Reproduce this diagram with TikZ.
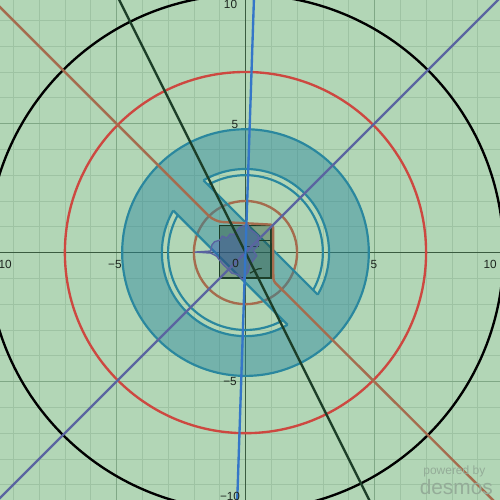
\documentclass[tikz,border=0pt]{standalone}
\usepackage{fontspec}
\setmainfont{Liberation Sans}
\definecolor{bg}{RGB}{178,214,182}
\definecolor{gridminor}{RGB}{158,195,163}
\definecolor{gridmajor}{RGB}{128,168,134}
\definecolor{axiscol}{RGB}{58,92,64}
\definecolor{dred}{RGB}{205,72,64}
\definecolor{dbrown}{RGB}{165,108,78}
\definecolor{dpurple}{RGB}{90,100,160}
\definecolor{dgreen}{RGB}{28,62,40}
\definecolor{dblue}{RGB}{52,118,200}
\definecolor{dteal}{RGB}{42,135,158}
\definecolor{labelcol}{RGB}{30,38,32}
\definecolor{wmark}{RGB}{148,172,152}
\tikzset{
  minorline/.style={gridminor, line width=0.7pt},
  majorline/.style={gridmajor, line width=0.9pt},
  axisline/.style={axiscol, line width=1.3pt},
  curve/.style={line width=2.6pt},
  ticklabel/.style={text=labelcol, font=\fontsize{13}{15}\selectfont, inner sep=0pt},
  tealline/.style={dteal, line width=2.4pt}
}
\begin{document}
\begin{tikzpicture}[x=1cm,y=1cm]
\useasboundingbox (-9.515,-9.59) rectangle (9.865,9.79);
\clip (-9.515,-9.59) rectangle (9.865,9.79);
\fill[bg] (-9.515,-9.59) rectangle (9.865,9.79);
% grid
\foreach \i in {-9,...,9} {
  \draw[minorline] (\i,-9.7) -- (\i,9.9);
  \draw[minorline] (-9.6,\i) -- (9.9,\i);
}
\foreach \i in {-5,5} {
  \draw[majorline] (\i,-9.7) -- (\i,9.9);
  \draw[majorline] (-9.6,\i) -- (9.9,\i);
}
\draw[axisline] (0,-9.7) -- (0,9.9);
\draw[axisline] (-9.6,0) -- (9.9,0);
% circles
\draw[curve, black] (0,0) circle (10);
\draw[curve, dred] (0,0) circle (7);
\draw[curve, dbrown] (0,0) circle (2);
% teal annulus with band
\fill[dteal, opacity=0.45, even odd rule] (0,0) circle (4.78)
  (120.2:3.24) arc[start angle=120.2, end angle=-30.2, radius=3.24] -- cycle
  (149.8:3.24) arc[start angle=149.8, end angle=300.2, radius=3.24] -- cycle;
\draw[tealline] (0,0) circle (4.78);
\draw[tealline] (120.2:3.24) arc[start angle=120.2, end angle=-30.2, radius=3.24];
\draw[tealline] (149.8:3.24) arc[start angle=149.8, end angle=300.2, radius=3.24];
\draw[tealline] (118.98:3.0) arc[start angle=118.98, end angle=-28.98, radius=3.0];
\draw[tealline] (151.02:3.0) arc[start angle=151.02, end angle=298.98, radius=3.0];
\draw[tealline] (120.2:3.24) -- (-30.2:3.24);
\draw[tealline] (149.8:3.24) -- (300.2:3.24);
% square
\filldraw[fill=dgreen, fill opacity=0.35, draw=dgreen, line width=2pt] (-1.01,-1.0) rectangle (1.0,1.05);
\draw[dgreen, line width=1.3pt] (0.0,0.22) -- (0.5,0.22) -- (0.5,0.48) -- (1.0,0.48);
\draw[dgreen, line width=1.3pt] (0.17,-0.8) .. controls (0.35,-0.72) and (0.45,-0.6) .. (0.63,-0.62);
% blob
\filldraw[fill=dpurple!70!blue, fill opacity=0.3, draw=dpurple, line width=1.5pt, line join=round]
  (-1.96,0.02) -- (-1.35,0.06) -- (-1.3,0.3) -- (-1.2,0.42) -- (-1.0,0.48) -- (-0.9,0.64)
  -- (-0.72,0.56) -- (-0.6,0.72) -- (-0.45,0.7) -- (-0.34,0.85) -- (-0.22,0.98) -- (-0.05,1.05)
  -- (0.08,1.1) -- (0.17,0.9) -- (0.32,0.8) -- (0.5,0.65) -- (0.48,0.45) -- (0.52,0.3)
  -- (0.3,0.08) -- (0.44,-0.12) -- (0.3,-0.3) -- (0.18,-0.48) -- (0.1,-0.75) -- (-0.12,-1.05)
  -- (-0.3,-0.85) -- (-0.53,-0.8) -- (-0.7,-0.62) -- (-0.86,-0.47) -- (-1.0,-0.3)
  -- (-1.12,-0.14) -- (-1.35,-0.02) -- cycle;
% lines
\draw[curve, dbrown, rounded corners=9pt] (-10,10) -- (-1.2,1.2) [rounded corners=3pt] -- (1.07,1.08) -- (1.08,-1.1) -- (10,-10);
\draw[curve, dpurple] (-10,-10) -- (10,10);
\draw[curve, dgreen] (-5,10) -- (5,-10);
\draw[curve, dblue] (-0.33,-9.9) -- (0.33,9.9);
% labels
\node[ticklabel] (xm10) at (-9.45,-0.45) {−10};
\node[ticklabel] (xm5) at (-5.06,-0.45) {−5};
\node[ticklabel] (x5) at (4.98,-0.45) {5};
\node[ticklabel] (x10) at (9.48,-0.45) {10};
\node[ticklabel] (y10) at (-0.58,9.62) {10};
\node[ticklabel] (y5) at (-0.41,4.98) {5};
\node[ticklabel] (ym5) at (-0.6,-4.98) {−5};
\node[ticklabel] (ym10) at (-0.6,-9.45) {−10};
\node[ticklabel] (o) at (-0.38,-0.43) {0};
% watermark
\node[text=wmark, font=\fontsize{13.2}{15}\selectfont, inner sep=0pt] (pw) at (8.095,-8.48) {powered by};
\node[text=wmark, font=\fontsize{23}{26}\selectfont, inner sep=0pt] (ds) at (8.17,-9.08) {desmos};
\end{tikzpicture}
\end{document}
